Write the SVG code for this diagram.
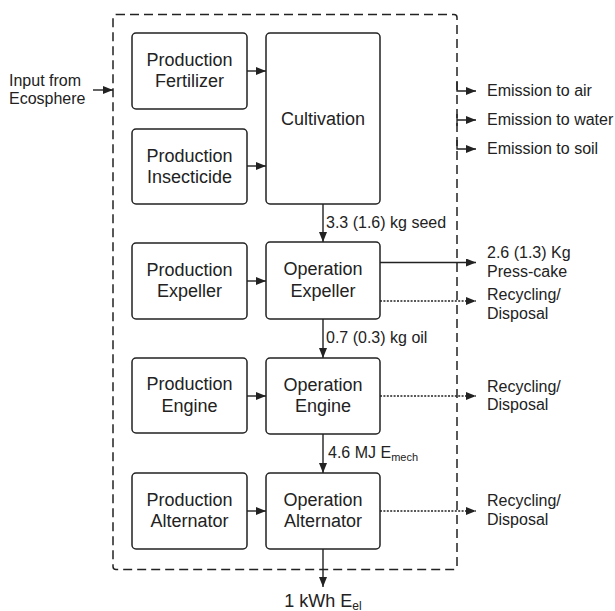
<svg xmlns="http://www.w3.org/2000/svg" width="615" height="611" viewBox="0 0 615 611">
<defs>
<marker id="ah" viewBox="0 0 10 8" refX="10" refY="4" markerWidth="10" markerHeight="8" orient="auto" markerUnits="userSpaceOnUse">
<path d="M0,0 L10,4 L0,8 Z" fill="#222"/>
</marker>
</defs>
<style>
.box{fill:#fff;stroke:#222;stroke-width:1.5}
.t{font-family:"Liberation Sans",Arial,sans-serif;font-size:18px;fill:#222;text-anchor:middle}
.l{font-family:"Liberation Sans",Arial,sans-serif;font-size:16px;fill:#222}
.ln{fill:none;stroke:#222;stroke-width:1.4}
.dot{stroke-dasharray:2,1.4}
.bound{fill:none;stroke:#222;stroke-width:1.5;stroke-dasharray:9,5}
</style>
<rect id="boundary" class="bound" x="113" y="14.5" width="344" height="555" rx="3"/>
<g id="connectors">
<path class="ln" d="M93,90 H113" marker-end="url(#ah)"/>
<path class="ln" d="M247,71 H266" marker-end="url(#ah)"/>
<path class="ln" d="M247,166 H266" marker-end="url(#ah)"/>
<path class="ln" d="M247,281 H266" marker-end="url(#ah)"/>
<path class="ln" d="M247,396 H266" marker-end="url(#ah)"/>
<path class="ln" d="M247,511 H266" marker-end="url(#ah)"/>
<path class="ln" d="M323,204 V242" marker-end="url(#ah)"/>
<path class="ln" d="M323,319 V358" marker-end="url(#ah)"/>
<path class="ln" d="M323,434 V473" marker-end="url(#ah)"/>
<path class="ln" d="M323,549 V587" marker-end="url(#ah)"/>
<path class="ln" d="M380,262.5 H476" marker-end="url(#ah)"/>
<path class="ln dot" d="M380,301 H476" marker-end="url(#ah)"/>
<path class="ln dot" d="M380,396 H476" marker-end="url(#ah)"/>
<path class="ln dot" d="M380,511 H476" marker-end="url(#ah)"/>
<path class="ln" d="M457,82 V91 H476" marker-end="url(#ah)"/>
<path class="ln" d="M457,114 V126 M457,120 H476" marker-end="url(#ah)"/>
<path class="ln" d="M457,140 V149 H476" marker-end="url(#ah)"/>
</g>
<g id="prod-fertilizer"><rect class="box" x="132" y="33" width="115" height="76" rx="4"/><text class="t" x="189.5" y="65.5">Production</text><text class="t" x="189.5" y="87">Fertilizer</text></g>
<g id="prod-insecticide"><rect class="box" x="132" y="129" width="115" height="75" rx="4"/><text class="t" x="189.5" y="161.5">Production</text><text class="t" x="189.5" y="183">Insecticide</text></g>
<g id="cultivation"><rect class="box" x="266" y="33" width="114" height="171" rx="4"/><text class="t" x="323" y="125">Cultivation</text></g>
<g id="prod-expeller"><rect class="box" x="132" y="243" width="115" height="76" rx="4"/><text class="t" x="189.5" y="275.5">Production</text><text class="t" x="189.5" y="297">Expeller</text></g>
<g id="op-expeller"><rect class="box" x="266" y="242" width="114" height="77" rx="4"/><text class="t" x="323" y="275">Operation</text><text class="t" x="323" y="296.5">Expeller</text></g>
<g id="prod-engine"><rect class="box" x="132" y="358" width="115" height="75" rx="4"/><text class="t" x="189.5" y="390">Production</text><text class="t" x="189.5" y="411.5">Engine</text></g>
<g id="op-engine"><rect class="box" x="266" y="358" width="114" height="76" rx="4"/><text class="t" x="323" y="390.5">Operation</text><text class="t" x="323" y="412">Engine</text></g>
<g id="prod-alternator"><rect class="box" x="132" y="473" width="115" height="76" rx="4"/><text class="t" x="189.5" y="505.5">Production</text><text class="t" x="189.5" y="527">Alternator</text></g>
<g id="op-alternator"><rect class="box" x="266" y="473" width="114" height="76" rx="4"/><text class="t" x="323" y="505.5">Operation</text><text class="t" x="323" y="527">Alternator</text></g>
<g id="labels">
<text class="l" x="9" y="86">Input from</text>
<text class="l" x="9" y="104">Ecosphere</text>
<text class="l" x="487" y="95.5">Emission to air</text>
<text class="l" x="487" y="124.5">Emission to water</text>
<text class="l" x="487" y="154">Emission to soil</text>
<text class="l" x="326" y="228">3.3 (1.6) kg seed</text>
<text class="l" x="326" y="343">0.7 (0.3) kg oil</text>
<text class="l" x="328" y="458">4.6 MJ E<tspan font-size="11" dy="3">mech</tspan></text>
<text class="l" x="487" y="257.5">2.6 (1.3) Kg</text>
<text class="l" x="487" y="276.5">Press-cake</text>
<text class="l" x="487" y="300">Recycling/</text>
<text class="l" x="487" y="318.5">Disposal</text>
<text class="l" x="487" y="391.5">Recycling/</text>
<text class="l" x="487" y="410">Disposal</text>
<text class="l" x="487" y="506">Recycling/</text>
<text class="l" x="487" y="525">Disposal</text>
<text class="t" x="323" y="606.5">1 kWh E<tspan font-size="12" dy="3">el</tspan></text>
</g>
</svg>
